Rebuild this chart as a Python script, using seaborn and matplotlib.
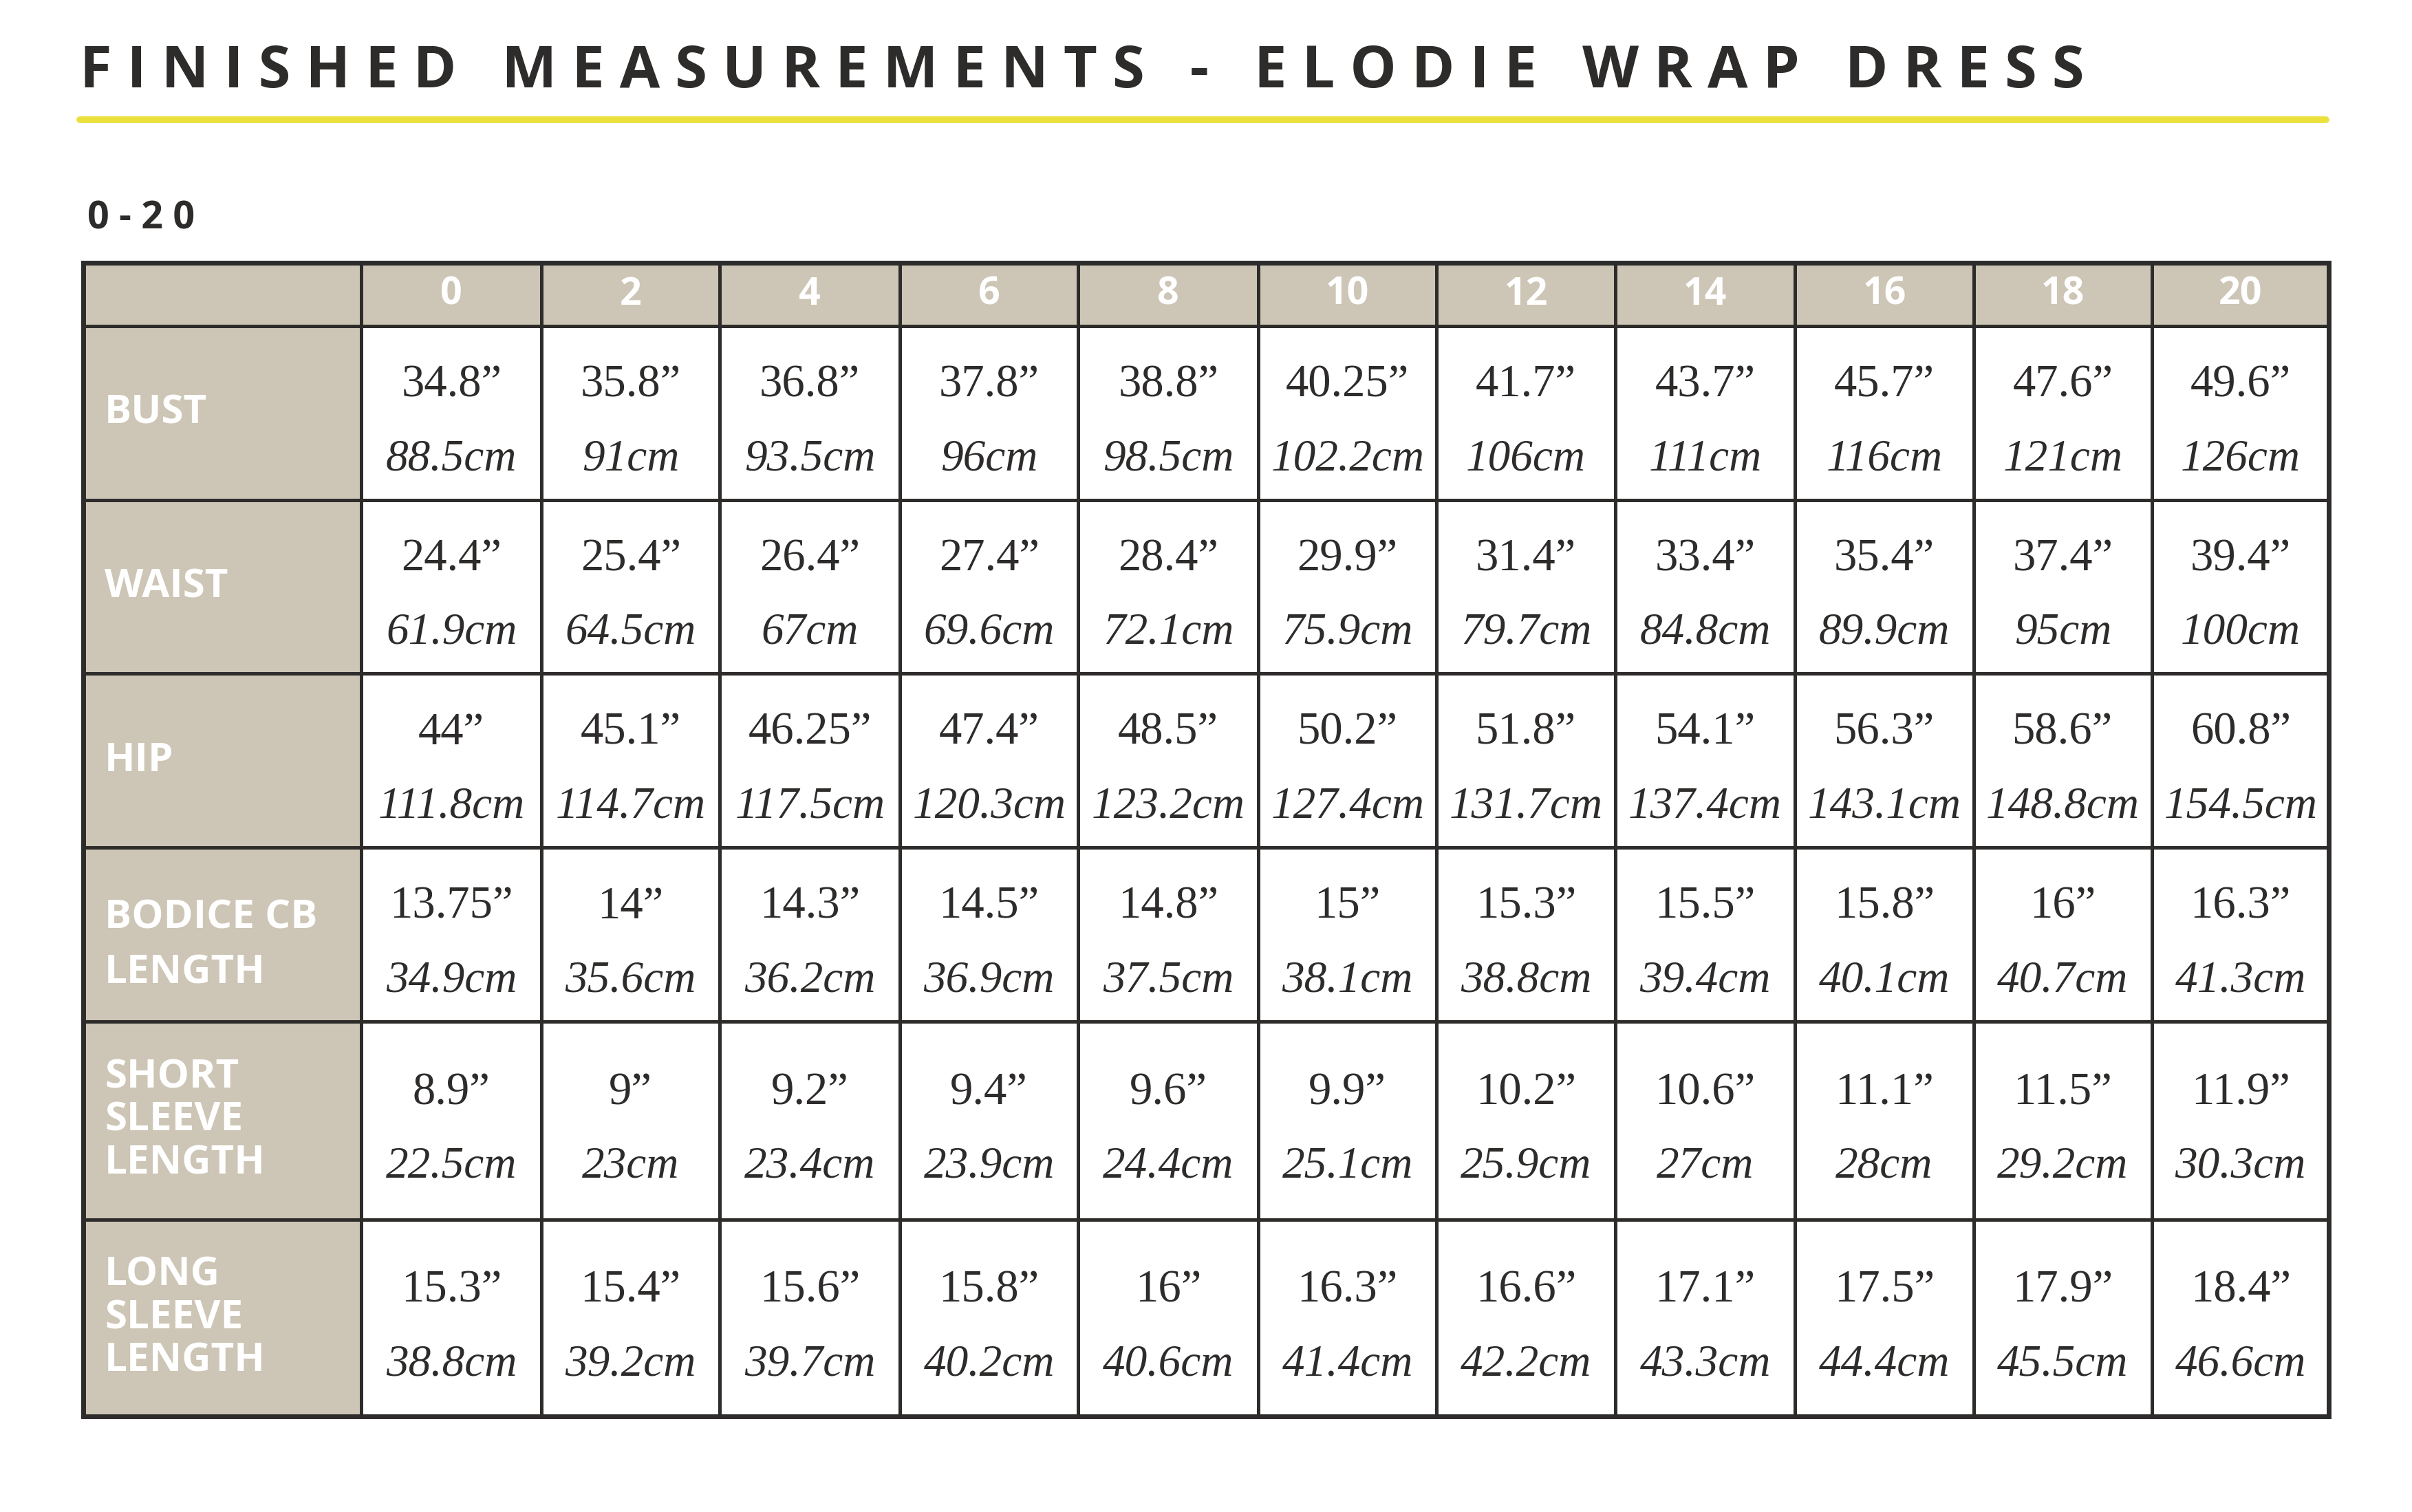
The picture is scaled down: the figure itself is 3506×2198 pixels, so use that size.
import numpy as np
import matplotlib.pyplot as plt
import seaborn as sns
from matplotlib.colors import ListedColormap

sizes = ["0", "2", "4", "6", "8", "10", "12", "14", "16", "18", "20"]
measures = ["BUST", "WAIST", "HIP", "BODICE CB\nLENGTH", "SHORT\nSLEEVE\nLENGTH", "LONG\nSLEEVE\nLENGTH"]

bust_in = ["34.8", "35.8", "36.8", "37.8", "38.8", "40.25", "41.7", "43.7", "45.7", "47.6", "49.6"]
bust_cm = ["88.5", "91", "93.5", "96", "98.5", "102.2", "106", "111", "116", "121", "126"]
waist_in = ["24.4", "25.4", "26.4", "27.4", "28.4", "29.9", "31.4", "33.4", "35.4", "37.4", "39.4"]
waist_cm = ["61.9", "64.5", "67", "69.6", "72.1", "75.9", "79.7", "84.8", "89.9", "95", "100"]
hip_in = ["44", "45.1", "46.25", "47.4", "48.5", "50.2", "51.8", "54.1", "56.3", "58.6", "60.8"]
hip_cm = ["111.8", "114.7", "117.5", "120.3", "123.2", "127.4", "131.7", "137.4", "143.1", "148.8", "154.5"]
bodice_in = ["13.75", "14", "14.3", "14.5", "14.8", "15", "15.3", "15.5", "15.8", "16", "16.3"]
bodice_cm = ["34.9", "35.6", "36.2", "36.9", "37.5", "38.1", "38.8", "39.4", "40.1", "40.7", "41.3"]
short_in = ["8.9", "9", "9.2", "9.4", "9.6", "9.9", "10.2", "10.6", "11.1", "11.5", "11.9"]
short_cm = ["22.5", "23", "23.4", "23.9", "24.4", "25.1", "25.9", "27", "28", "29.2", "30.3"]
long_in = ["15.3", "15.4", "15.6", "15.8", "16", "16.3", "16.6", "17.1", "17.5", "17.9", "18.4"]
long_cm = ["38.8", "39.2", "39.7", "40.2", "40.6", "41.4", "42.2", "43.3", "44.4", "45.5", "46.6"]

inches = [bust_in, waist_in, hip_in, bodice_in, short_in, long_in]
cms = [bust_cm, waist_cm, hip_cm, bodice_cm, short_cm, long_cm]

BEIGE = "#cdc5b5"
DARK = "#2e2c2b"
YELLOW = "#ece03c"

sns.set_theme(style="white")
W, H = 1568, 983
fig = plt.figure(figsize=(35.06, 21.98), dpi=100)
fig.patch.set_facecolor("white")

# title, rule and range label
fig.text(52 / W, 1 - 47 / H, "F I N I S H E D   M E A S U R E M E N T S   -   E L O D I E   W R A P   D R E S S",
         fontsize=61, fontweight="bold", color=DARK, family="Open Sans", va="center", ha="left")
fig.add_artist(plt.Line2D([52 / W, 1512 / W], [1 - 78 / H, 1 - 78 / H], color=YELLOW, lw=7))
fig.text(57 / W, 1 - 142 / H, "0 - 2 0", fontsize=40, fontweight="bold", color=DARK,
         family="Open Sans", va="center", ha="left")

# table geometry (display units)
x_edges = np.array([54, 235, 352, 468, 585, 701, 818, 934, 1050, 1167, 1283, 1399, 1514])
y_edges = np.array([171, 212, 325, 438, 551, 664, 793, 921])

ax = fig.add_axes([54 / W, 1 - 921 / H, (1514 - 54) / W, (921 - 171) / H])
colors = np.zeros((len(y_edges) - 1, len(x_edges) - 1))
colors[0, :] = 1
colors[:, 0] = 1
ax.pcolormesh(x_edges, y_edges, colors, cmap=ListedColormap(["white", BEIGE]),
              edgecolor=DARK, linewidth=3.5)
ax.set_xlim(x_edges[0], x_edges[-1])
ax.set_ylim(y_edges[-1], y_edges[0])
ax.axis("off")
ax.add_patch(plt.Rectangle((x_edges[0], y_edges[0]), x_edges[-1] - x_edges[0], y_edges[-1] - y_edges[0],
                           fill=False, edgecolor=DARK, lw=5, clip_on=False))

xc = (x_edges[1:] + x_edges[:-1]) / 2
yc = (y_edges[1:] + y_edges[:-1]) / 2

for j, s in enumerate(sizes):
    ax.text(xc[j + 1], yc[0], s, color="white", fontsize=40, fontweight="bold",
            family="Open Sans", ha="center", va="center")

for i, m in enumerate(measures):
    ls = 1.5 if i == 3 else 1.1
    ax.text(68, yc[i + 1] + (7 if i == 3 else 0), m, color="white", fontsize=42, fontweight="bold",
            family="Open Sans", ha="left", va="center", linespacing=ls)
    for j in range(len(sizes)):
        ax.text(xc[j + 1], yc[i + 1] - 18, inches[i][j] + "\u201d", color=DARK, fontsize=48,
                family="Liberation Serif", ha="center", va="center")
        ax.text(xc[j + 1], yc[i + 1] + 30, cms[i][j] + "cm", color=DARK, fontsize=47,
                family="Liberation Serif", style="italic", ha="center", va="center")

fig.savefig("out.png", dpi=100, facecolor="white")
